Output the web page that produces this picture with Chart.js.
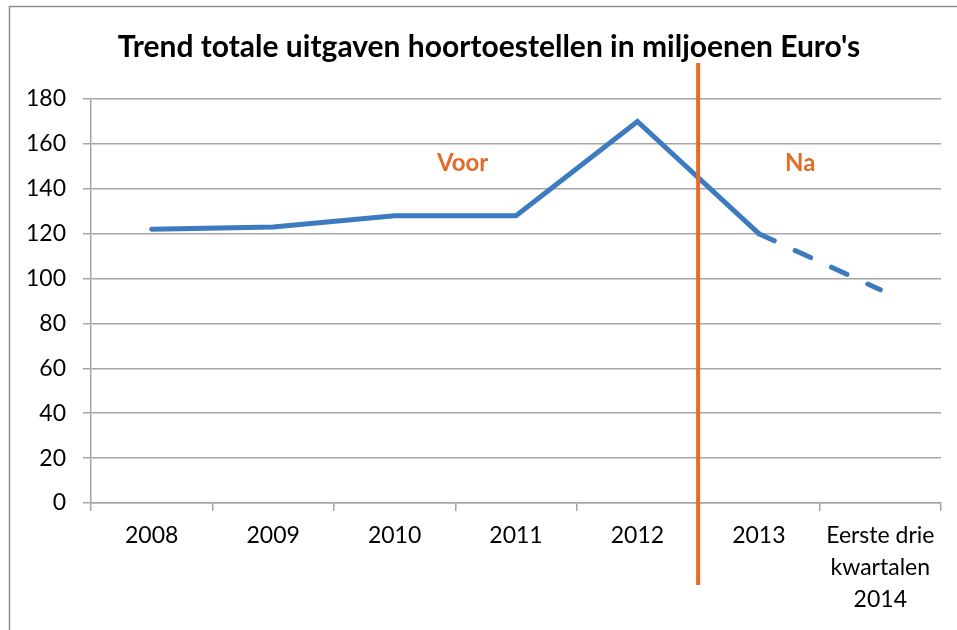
<!DOCTYPE html>
<html>
<head>
<meta charset="utf-8">
<script src="https://cdn.jsdelivr.net/npm/chart.js@4/dist/chart.umd.min.js"></script>
<style>
  body { margin: 0; background: #fff; }
  #wrap { width: 957px; height: 630px; }
</style>
</head>
<body>
<div id="wrap"><canvas id="myChart"></canvas></div>
<script>
// data
var title = "Trend totale uitgaven hoortoestellen in miljoenen Euro's";
var labels = ['2008', '2009', '2010', '2011', '2012', '2013', ['Eerste drie', 'kwartalen', '2014']];
var uitgaven = [122, 123, 128, 128, 170, 120, 95];
var yTicks = {min: 0, max: 180, step: 20};
var splitAt = 4.5;   // between 2012 and 2013
var notes = ['Voor', 'Na'];

var blue = '#3D7BC0';
var orange = '#E46C26';
var grey = '#A6A6A6';

// frame, title, divider and the Voor / Na labels
var extras = {
    id: 'extras',
    beforeDraw: function(chart) {
        var c = chart.ctx;
        c.save();
        c.strokeStyle = '#8E8E8E';
        c.lineWidth = 1.5;
        c.beginPath();
        c.moveTo(9.5, 640);
        c.lineTo(9.5, 6.5);
        c.lineTo(970, 6.5);
        c.stroke();
        c.fillStyle = '#000';
        c.font = 'bold 30px Lato';
        c.textAlign = 'center';
        c.textBaseline = 'alphabetic';
        c.fillText(title, 489, 57);
        c.restore();
    },
    afterDatasetsDraw: function(chart) {
        var c = chart.ctx;
        var x = chart.scales.x;
        var y = chart.scales.y;
        var area = chart.chartArea;
        var px = x.getPixelForValue(splitAt);
        c.save();
        c.strokeStyle = orange;
        c.lineWidth = 4;
        c.beginPath();
        c.moveTo(px, area.top - 36);
        c.lineTo(px, area.bottom + 82);
        c.stroke();
        c.fillStyle = orange;
        c.font = 'bold 24px Lato';
        c.textAlign = 'center';
        c.fillText(notes[0], x.getPixelForValue(2.56), y.getPixelForValue(148));
        c.fillText(notes[1], x.getPixelForValue(5.34), y.getPixelForValue(148));
        c.restore();
    }
};

var ctx = document.getElementById('myChart').getContext('2d');
var chart = new Chart(ctx, {
    type: 'line',
    data: {
        labels: labels,
        datasets: [{
            label: 'Uitgaven',
            data: uitgaven,
            borderColor: blue,
            backgroundColor: blue,
            borderWidth: 5,
            borderCapStyle: 'round',
            pointRadius: 0,
            tension: 0,
            fill: false,
            segment: {
                borderDash: function(s) { return s.p1DataIndex === 6 ? [17, 23] : undefined; }
            }
        }]
    },
    options: {
        responsive: true,
        maintainAspectRatio: false,
        animation: false,
        layout: {padding: {top: 99, right: 16, left: 0, bottom: 0}},
        plugins: {legend: {display: false}, tooltip: {enabled: false}},
        scales: {
            x: {
                offset: true,
                grid: {offset: true, drawOnChartArea: false, drawTicks: true, tickLength: 8, color: grey, lineWidth: 1.5},
                border: {display: true, color: grey, width: 1.5},
                ticks: {color: '#000', font: {family: 'Lato', size: 23, lineHeight: 1.38}, padding: 9, maxRotation: 0, autoSkip: false},
                afterFit: function(s) { s.height = 127; }
            },
            y: {
                min: yTicks.min,
                max: yTicks.max,
                grid: {color: grey, lineWidth: 1.5, tickLength: 8},
                border: {display: true, color: grey, width: 1.5},
                ticks: {stepSize: yTicks.step, color: '#000', font: {family: 'Lato', size: 23}, padding: 17},
                afterFit: function(s) { s.width = 91; }
            }
        }
    },
    plugins: [extras]
});
</script>
</body>
</html>
